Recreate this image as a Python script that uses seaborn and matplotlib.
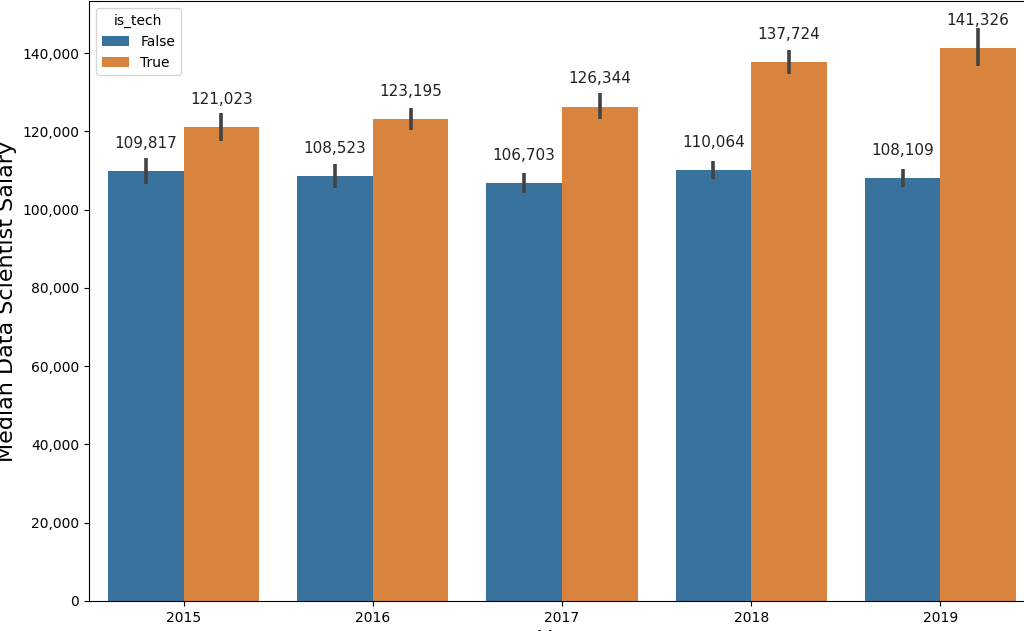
import matplotlib
matplotlib.use("Agg")
import matplotlib.pyplot as plt
import matplotlib.ticker as mticker
import pandas as pd
import seaborn as sns

years = [2015, 2016, 2017, 2018, 2019]
false_median = [109817, 108523, 106703, 110064, 108109]
true_median = [121023, 123195, 126344, 137724, 141326]
# error bar ends
false_lo = [106510, 105500, 104120, 107790, 105830]
false_hi = [113140, 111770, 109470, 112460, 110490]
true_lo = [117560, 120440, 123090, 134720, 136600]
true_hi = [124700, 126050, 129720, 140760, 146290]

dff = pd.DataFrame({"year": years, "salary": false_median, "is_tech": "False"})
dft = pd.DataFrame({"year": years, "salary": true_median, "is_tech": "True"})
df = pd.concat([dff, dft])

fig = plt.figure(figsize=(10.24, 6.31), dpi=100)
ax = fig.add_axes([89 / 1024, 30 / 631, 946 / 1024, 600 / 631])

g = sns.barplot(
    data=df, x="year", y="salary",
    hue="is_tech", hue_order=["False", "True"],
    palette=["#3a729e", "#d8843e"], saturation=1,
    errorbar=None, ax=ax
)

lows = [false_lo, true_lo]
highs = [false_hi, true_hi]
for i, cont in enumerate(ax.containers):
    xs = [p.get_x() + p.get_width() / 2 for p in cont.patches]
    ax.vlines(xs, lows[i], highs[i], color=".26", linewidth=2.6, zorder=3)
    for x, p in zip(xs, cont.patches):
        h = p.get_height()
        ax.annotate(f"{h:,.0f}", (x, h), xytext=(0, 20), textcoords="offset points",
                    ha="center", va="center", fontsize=11, color="#222222")

ax.set_xlim(-0.5, 4.5)
ax.set_ylim(0, 153300)
ax.yaxis.set_major_formatter(mticker.StrMethodFormatter("{x:,.0f}"))
ax.tick_params(labelsize=10)
g.set_xlabel("Year", fontsize=16)
g.set_ylabel("Median Data Scientist Salary", fontsize=16)
ax.legend(title="is_tech", loc="upper left", fontsize=10, title_fontsize=10)

fig.savefig("out.png", dpi=100)
